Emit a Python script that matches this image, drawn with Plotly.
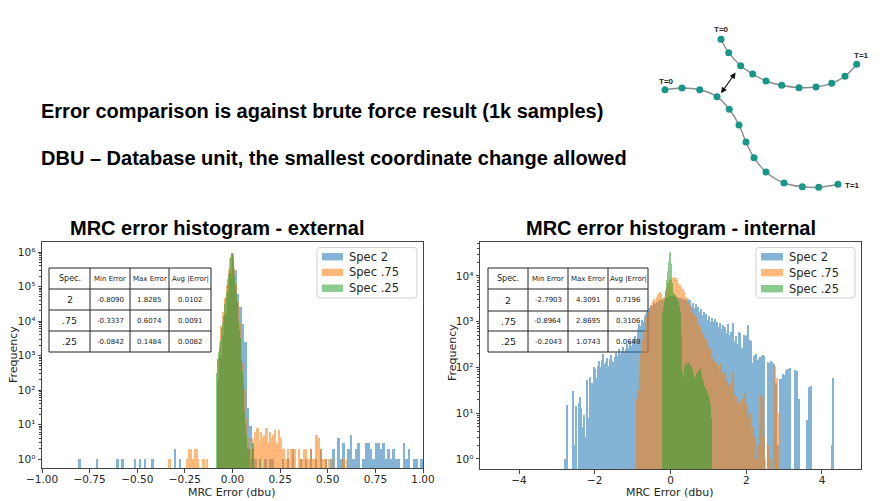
import plotly.graph_objects as go

W, H = 888, 501

# ---------------- data ----------------
legend_labels = ["Spec 2", "Spec .75", "Spec .25"]
series_colors = ["#1f77b4", "#ff7f0e", "#2ca02c"]

table_header = ["Spec.", "Min Error", "Max Error", "Avg |Error|"]
table_spec = ["2", ".75", ".25"]
ext_min_err = ["-0.8090", "-0.3337", "-0.0842"]
ext_max_err = ["1.8285", "0.6074", "0.1484"]
ext_avg_err = ["0.0102", "0.0091", "0.0082"]
int_min_err = ["-2.7903", "-0.8964", "-0.2043"]
int_max_err = ["4.3091", "2.8695", "1.0743"]
int_avg_err = ["0.7196", "0.3106", "0.0649"]

ext_x_ticks = [-1.0, -0.75, -0.5, -0.25, 0.0, 0.25, 0.5, 0.75, 1.0]
int_x_ticks = [-4, -2, 0, 2, 4]
ext_y_ticks = [1, 10, 100, 1e3, 1e4, 1e5, 1e6]
ext_y_labels = ["10\u2070", "10\u00b9", "10\u00b2", "10\u00b3", "10\u2074", "10\u2075", "10\u2076"]
int_y_ticks = [1, 10, 100, 1e3, 1e4]
int_y_labels = ["10\u2070", "10\u00b9", "10\u00b2", "10\u00b3", "10\u2074"]

# External histogram: bin start, bin width, counts per bin
ext_blue_start, ext_blue_width = -0.8090, 0.01319
ext_blue_counts = [
    1, 0, 0, 0, 0, 0, 0, 1, 0, 0,
    0, 0, 0, 0, 0, 1, 0, 1, 0, 0,
    0, 0, 1, 0, 1, 0, 1, 0, 0, 1,
    0, 0, 0, 0, 0, 0, 0, 0, 2, 0,
    1, 0, 0, 0, 0, 0, 0, 0, 0, 0,
    0, 0, 0, 0, 0, 200, 1000, 4000, 15000, 60000,
    250000, 900000, 300000, 60000, 25000, 8000, 2500, 30, 9, 2,
    1, 0, 0, 0, 1, 0, 1, 1, 0, 0,
    0, 1, 0, 1, 0, 2, 0, 0, 1, 0,
    1, 0, 2, 0, 1, 0, 2, 0, 1, 0,
    1, 2, 0, 4, 1, 3, 0, 2, 5, 1,
    2, 3, 0, 1, 3, 3, 2, 1, 3, 3,
    2, 3, 1, 2, 1, 2, 1, 1, 0, 3,
    1, 2, 0, 1, 1, 0, 1,
]
ext_orange_start, ext_orange_width = -0.3337, 0.00941
ext_orange_counts = [
    1, 0, 0, 0, 0, 0, 0, 0, 0, 0,
    1, 2, 2, 1, 2, 2, 1, 0, 0, 1,
    0, 1, 0, 0, 0, 0, 0, 800, 2500, 7000,
    18000, 45000, 110000, 300000, 650000, 950000, 350000, 120000, 35000, 9000,
    2500, 600, 100, 15, 4, 2, 4, 3, 6, 8,
    3, 6, 4, 5, 8, 3, 6, 4, 5, 7,
    3, 7, 4, 2, 2, 1, 2, 1, 2, 1,
    2, 0, 2, 1, 1, 2, 2, 1, 1, 2,
    1, 1, 5, 4, 2, 1, 1, 1, 0, 1,
    0, 1, 0, 0, 0, 0, 0, 1, 0, 1,
]
ext_green_start, ext_green_width = -0.0842, 0.004
ext_green_counts = [
    320, 560, 800, 1250, 1800, 2800, 4000, 6300, 9000, 14000,
    20000, 32000, 45000, 70000, 100000, 160000, 225000, 350000, 500000, 700000,
    950000, 620000, 350000, 200000, 110000, 63000, 35000, 20000, 10000, 5600,
    3200, 1600, 800, 360, 160, 70, 25, 10, 5, 3,
    2, 2, 2, 1, 0, 0, 1, 3, 1, 0,
    0, 0, 0, 0, 0, 0, 0, 1,
]

# Internal histogram
int_blue_start, int_blue_width = -2.7903, 0.0355
int_blue_counts = [
    1, 15, 0, 0, 0, 0, 30, 2, 14, 0,
    17, 23, 13, 5, 9, 3, 53, 8, 63, 20,
    45, 100, 90, 60, 110, 135, 100, 145, 200, 120,
    130, 160, 110, 150, 190, 140, 130, 170, 210, 180,
    250, 200, 230, 280, 210, 250, 320, 270, 380, 300,
    420, 350, 480, 400, 700, 900, 800, 1100, 1000, 1300,
    1500, 1700, 2000, 1900, 2300, 2200, 2500, 2400, 2700, 2600,
    2900, 2800, 3100, 3000, 3300, 3200, 3500, 3400, 3700, 3600,
    3500, 3550, 3400, 3450, 3300, 3350, 3200, 3250, 3000, 3100,
    2800, 3100, 2500, 2950, 2200, 2600, 2000, 2400, 1800, 2100,
    1600, 1900, 1400, 1650, 1250, 1500, 1100, 1300, 1000, 1200,
    1000, 1150, 850, 1000, 780, 920, 700, 850, 650, 760,
    560, 900, 500, 600, 430, 950, 380, 480, 320, 600,
    560, 285, 260, 500, 480, 520, 850, 400, 380, 125,
    180, 190, 200, 145, 150, 170, 180, 190, 175, 0,
    0, 130, 125, 135, 130, 120, 40, 45, 2, 0,
    56, 55, 70, 68, 85, 93, 90, 95, 0, 0,
    0, 89, 85, 5, 20, 0, 0, 0, 0, 0,
    7, 38, 0, 40, 0, 0, 0, 0, 0, 0,
    0, 0, 0, 0, 0, 0, 0, 0, 2, 59,
]
int_orange_start, int_orange_width = -0.8964, 0.03766
int_orange_counts = [
    20, 32, 80, 200, 400, 630, 1000, 1250, 1600, 2000,
    2250, 2800, 3200, 2800, 3500, 4000, 4500, 4000, 3200, 3500,
    4500, 5600, 7000, 8000, 8500, 9100, 9600, 9000, 8000, 7100,
    6300, 5600, 5200, 4500, 3500, 3200, 2600, 2200, 2000, 1650,
    1400, 1250, 1000, 900, 760, 630, 560, 450, 400, 320,
    280, 250, 200, 160, 140, 125, 100, 110, 80, 125,
    70, 63, 80, 50, 40, 45, 32, 80, 25, 20,
    22, 16, 18, 10, 20, 12, 28, 16, 8, 10,
    4, 5, 2, 3, 1, 2, 6, 25, 22, 3,
    1, 0, 2, 0, 1, 0, 3, 110, 60, 10,
]
int_green_start, int_green_width = -0.2043, 0.01279
int_green_counts = [
    1600, 2000, 2200, 2500, 2800, 3500, 5000, 6300, 8000, 10000,
    12500, 16000, 20000, 25000, 32000, 33000, 25000, 18000, 11000, 7000,
    5000, 4000, 4200, 3800, 4000, 3500, 3800, 3200, 3500, 3000,
    3200, 2800, 2500, 2200, 2000, 1600, 1000, 500, 200, 80,
    40, 50, 38, 63, 80, 110, 50, 125, 80, 110,
    63, 120, 90, 100, 125, 70, 100, 80, 110, 63,
    90, 50, 70, 56, 63, 45, 56, 40, 63, 50,
    70, 56, 80, 50, 70, 63, 90, 56, 70, 50,
    63, 40, 56, 35, 50, 32, 40, 28, 35, 25,
    32, 22, 28, 20, 25, 16, 20, 12, 16, 8,
]

# Diagram (top right), in slide pixel coordinates
curve_a_x = [721, 728.7, 740.7, 752.7, 766, 781.7, 799, 816, 831.7, 845, 856.7]
curve_a_y = [39.3, 52.7, 65.7, 74, 81, 85.3, 87.7, 87, 83.3, 76.3, 64.3]
curve_b_x = [665, 682, 699.7, 717, 729.3, 739, 746, 754, 766, 784, 802.3, 818.7, 838]
curve_b_y = [89.7, 88, 89.7, 96.7, 109.3, 125, 142, 157.7, 172, 183, 186.7, 187.3, 184.3]
diagram_labels = ["T=0", "T=1", "T=0", "T=1"]
diagram_label_x = [721, 861, 666, 843]
diagram_label_y = [29, 55, 81, 185]
diagram_label_anchor = ["center", "center", "center", "left"]

header_lines = [
    "Error comparison is against brute force result (1k samples)",
    "DBU \u2013 Database unit, the smallest coordinate change allowed",
]


# ---------------- helpers ----------------
def px(x):
    return x / W


def py(y):
    return 1 - y / H


def centers(start, width, n):
    return [start + width * (i + 0.5) for i in range(n)]


def rounded_rect_path(x0, y0, x1, y1, r):
    pts = [
        ("M", [(x0 + r, y0)]), ("L", [(x1 - r, y0)]), ("Q", [(x1, y0), (x1, y0 + r)]),
        ("L", [(x1, y1 - r)]), ("Q", [(x1, y1), (x1 - r, y1)]),
        ("L", [(x0 + r, y1)]), ("Q", [(x0, y1), (x0, y1 - r)]),
        ("L", [(x0, y0 + r)]), ("Q", [(x0, y0), (x0 + r, y0)]),
    ]
    parts = []
    for cmd, ps in pts:
        parts.append(cmd + " ".join("%.5f,%.5f" % (px(a), py(b)) for a, b in ps))
    return " ".join(parts) + " Z"


def hist_bar(start, width, counts, color, xa, ya, name):
    return go.Bar(
        x=centers(start, width, len(counts)),
        y=[c if c > 0 else None for c in counts],
        width=width,
        marker=dict(color=color, line=dict(width=0)),
        opacity=0.55,
        xaxis=xa, yaxis=ya,
        name=name, showlegend=False, hoverinfo="skip",
    )


fig = go.Figure()

ext_series = [
    (ext_blue_start, ext_blue_width, ext_blue_counts),
    (ext_orange_start, ext_orange_width, ext_orange_counts),
    (ext_green_start, ext_green_width, ext_green_counts),
]
int_series = [
    (int_blue_start, int_blue_width, int_blue_counts),
    (int_orange_start, int_orange_width, int_orange_counts),
    (int_green_start, int_green_width, int_green_counts),
]
for (s, w, c), col, lab in zip(ext_series, series_colors, legend_labels):
    fig.add_trace(hist_bar(s, w, c, col, "x", "y", lab))
for (s, w, c), col, lab in zip(int_series, series_colors, legend_labels):
    fig.add_trace(hist_bar(s, w, c, col, "x2", "y2", lab))

# diagram
for cx, cy in [(curve_a_x, curve_a_y), (curve_b_x, curve_b_y)]:
    fig.add_trace(go.Scatter(
        x=cx, y=cy, mode="lines+markers", xaxis="x3", yaxis="y3",
        line=dict(color="#8a8a8a", width=1.4, shape="spline"),
        marker=dict(color="#17968a", size=7),
        showlegend=False, hoverinfo="skip",
    ))

axis_common = dict(
    showline=True, mirror=True, linecolor="#444444", linewidth=1,
    ticks="outside", ticklen=3.5, tickwidth=0.8, tickcolor="#444444",
    showgrid=False, zeroline=False, automargin=False,
    tickfont=dict(family="DejaVu Sans", size=10.5, color="#262626"),
)
minor_vals = [m * 10 ** e for e in range(0, 7) for m in range(2, 10)]
minor_common = dict(tickvals=minor_vals, ticks="outside", ticklen=2, tickwidth=0.6,
                    tickcolor="#444444", showgrid=False)

fig.update_layout(
    width=W, height=H,
    margin=dict(l=0, r=0, t=0, b=0, pad=0, autoexpand=False),
    paper_bgcolor="white", plot_bgcolor="rgba(0,0,0,0)",
    barmode="overlay", bargap=0,
    showlegend=False,
    font=dict(family="DejaVu Sans", color="#222222"),
    xaxis=dict(domain=[px(42), px(423)], range=[-1, 1], tickvals=ext_x_ticks,
               tickformat=".2f", anchor="y", ticklabelstandoff=-2, **axis_common),
    yaxis=dict(domain=[py(468), py(242)], type="log", range=[-0.26, 6.29],
               tickvals=ext_y_ticks, ticktext=ext_y_labels, anchor="x",
               minor=minor_common, **axis_common),
    xaxis2=dict(domain=[px(480), px(861)], range=[-5.03, 5.03], tickvals=int_x_ticks,
                anchor="y2", ticklabelstandoff=-2, **axis_common),
    yaxis2=dict(domain=[py(469), py(242)], type="log", range=[-0.22, 4.74],
                tickvals=int_y_ticks, ticktext=int_y_labels, anchor="x2",
                minor=minor_common, **axis_common),
    xaxis3=dict(domain=[0.72, 1.0], range=[0.72 * W, W], visible=False, anchor="y3"),
    yaxis3=dict(domain=[0.6, 1.0], range=[0.4 * H, 0], visible=False, anchor="x3"),
)

ann = []
shapes = []
title_font = dict(family="Liberation Sans, Arial, sans-serif", size=20, color="black")
for line, yy in zip(header_lines, [111, 158]):
    ann.append(dict(text="<b>%s</b>" % line, x=px(39), y=py(yy), xref="paper", yref="paper",
                    xanchor="left", yanchor="middle", showarrow=False, font=title_font))
for txt, cx in [("MRC error histogram - external", 217), ("MRC error histogram - internal", 671)]:
    ann.append(dict(text="<b>%s</b>" % txt, x=px(cx), y=py(228), xref="paper", yref="paper",
                    xanchor="center", yanchor="middle", showarrow=False, font=title_font))
lab_font = dict(family="DejaVu Sans", size=11, color="#262626")
for cx in [232, 670]:
    ann.append(dict(text="MRC Error (dbu)", x=px(cx), y=py(492), xref="paper", yref="paper",
                    xanchor="center", yanchor="middle", showarrow=False, font=lab_font))
for cx, cy in [(13, 355), (452, 353)]:
    ann.append(dict(text="Frequency", x=px(cx), y=py(cy), xref="paper", yref="paper",
                    xanchor="center", yanchor="middle", textangle=-90, showarrow=False, font=lab_font))

# tables (grid lines + cell texts)
header_sizes = [8, 7, 7, 7]
body_sizes = [9.5, 7, 7, 7]
for x_edges, y_edges, cols in [
    ([49, 90, 130, 169, 211], [268, 289, 310, 331, 352],
     [table_spec, ext_min_err, ext_max_err, ext_avg_err]),
    ([488, 528, 568, 608, 648], [268, 289, 311, 331, 352],
     [table_spec, int_min_err, int_max_err, int_avg_err]),
]:
    for xe in x_edges:
        shapes.append(dict(type="line", xref="paper", yref="paper", layer="below",
                           x0=px(xe), x1=px(xe), y0=py(y_edges[0]), y1=py(y_edges[-1]),
                           line=dict(color="#222222", width=1)))
    for ye in y_edges:
        shapes.append(dict(type="line", xref="paper", yref="paper", layer="below",
                           x0=px(x_edges[0]), x1=px(x_edges[-1]), y0=py(ye), y1=py(ye),
                           line=dict(color="#222222", width=1)))
    for ci, col in enumerate(cols):
        cxm = (x_edges[ci] + x_edges[ci + 1]) / 2
        cells = [table_header[ci]] + list(col)
        for ri, val in enumerate(cells):
            cym = (y_edges[ri] + y_edges[ri + 1]) / 2
            size = header_sizes[ci] if ri == 0 else body_sizes[ci]
            ann.append(dict(text=val, x=px(cxm), y=py(cym), xref="paper", yref="paper",
                            xanchor="center", yanchor="middle", showarrow=False,
                            font=dict(family="DejaVu Sans", size=size, color="#222222")))

# legends (drawn per subplot)
for box_x0, box_x1, patch_x0, patch_x1, text_x, rows in [
    (317, 417, 322, 343, 347, [256.7, 272.4, 288.2]),
    (756, 855, 761, 783, 787, [256.7, 272.7, 288.7]),
]:
    shapes.append(dict(type="path", xref="paper", yref="paper",
                       path=rounded_rect_path(box_x0, 247.5, box_x1, 298, 3),
                       line=dict(color="#d0d0d0", width=1), fillcolor="rgba(255,255,255,0.85)"))
    for lab, col, ry in zip(legend_labels, series_colors, rows):
        shapes.append(dict(type="rect", xref="paper", yref="paper",
                           x0=px(patch_x0), x1=px(patch_x1), y0=py(ry + 3.7), y1=py(ry - 3.7),
                           line=dict(width=0), fillcolor=col, opacity=0.55))
        ann.append(dict(text=lab, x=px(text_x), y=py(ry), xref="paper", yref="paper",
                        xanchor="left", yanchor="middle", showarrow=False,
                        font=dict(family="DejaVu Sans", size=11.5, color="#262626")))

# diagram labels and arrow
for t, lx, ly, anc in zip(diagram_labels, diagram_label_x, diagram_label_y, diagram_label_anchor):
    ann.append(dict(text="<b>%s</b>" % t, x=lx, y=ly, xref="x3", yref="y3", xanchor=anc,
                    yanchor="middle", showarrow=False,
                    font=dict(family="Liberation Sans, Arial, sans-serif", size=8, color="#222222")))
ann.append(dict(x=721, y=93.3, ax=736.7, ay=71, xref="x3", yref="y3", axref="x3", ayref="y3",
                showarrow=True, arrowhead=2, arrowside="end+start", arrowsize=1, arrowwidth=1.2,
                arrowcolor="#111111", text=""))

fig.update_layout(annotations=ann, shapes=shapes)

fig.write_html("out.html")
